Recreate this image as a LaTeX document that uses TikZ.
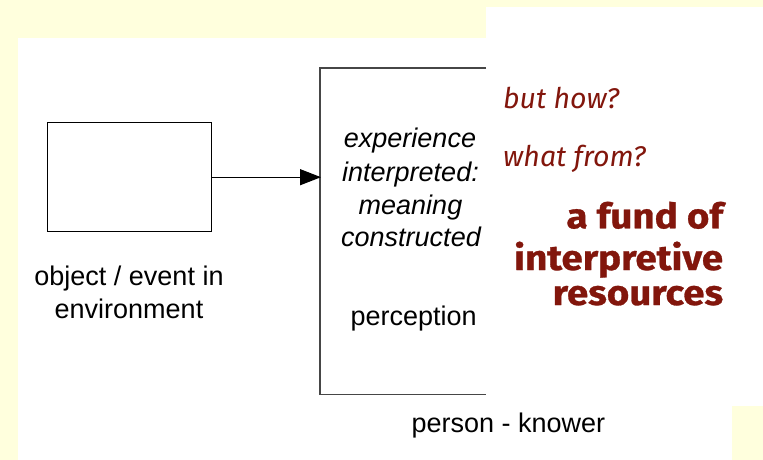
\documentclass[tikz,border=0pt]{standalone}
\usepackage{fontspec}
\usepackage{graphicx}
\setmainfont{Liberation Sans}
\newfontfamily\redfont{Fira Sans}
\newfontfamily\fundfont[BoldFeatures={FakeBold=0.8}]{Fira Sans}
\usetikzlibrary{arrows.meta}
\definecolor{bgyellow}{RGB}{255,255,221}
\definecolor{darkred}{RGB}{130,22,12}
\definecolor{linegray}{RGB}{70,70,70}
\newcommand{\widen}[1]{\scalebox{1.1}[1]{#1}}
\begin{document}
\begin{tikzpicture}[x=1pt,y=-1pt,
  lbl/.style={anchor=base,inner sep=0pt,font=\fontsize{27}{31}\selectfont},
  ital/.style={anchor=base,inner sep=0pt,font=\fontsize{27}{31}\selectfont\itshape},
  question/.style={anchor=base west,inner sep=0pt,text=darkred,font=\redfont\fontsize{28.5}{32}\selectfont\itshape},
  fund/.style={anchor=base east,inner sep=0pt,text=darkred,font=\fundfont\fontsize{35}{40}\selectfont\bfseries},
  objbox/.style={draw=black,line width=1.3pt,minimum width=164pt,minimum height=109pt,inner sep=0pt},
  bracket/.style={draw=linegray,line width=1.5pt},
  conn/.style={draw=black,line width=1.2pt,-{Triangle[length=21pt,width=16pt]}}
]
\useasboundingbox (0,0) rectangle (763,460);
\fill[bgyellow] (0,0) rectangle (763,460);
\fill[white] (18,38) rectangle (732,460);
\fill[white] (486,7) rectangle (763,406);

% object box
\node[objbox] (obj) at (129.3,177.2) {};
\node[lbl] (obj1) at (129,285.5) {object / event in};
\node[lbl] (obj2) at (129,318) {environment};

% person bracket
\coordinate (ptr) at (486,68);
\coordinate (ptl) at (320,68);
\coordinate (pbl) at (320,394.5);
\coordinate (pbr) at (486,394.5);
\coordinate (entry) at (321,177.2);
\draw[bracket] (ptr) -- (ptl) -- (pbl) -- (pbr);
\draw[conn] (obj.east) -- (entry);

\node[ital] (e1) at (410,147.3) {experience};
\node[ital] (e2) at (410.5,181) {interpreted:};
\node[ital] (e3) at (410.5,214) {meaning};
\node[ital] (e4) at (411,246.7) {constructed};
\node[lbl] (perc) at (413.7,325) {perception};
\node[lbl] (pk) at (508.4,432) {person - knower};

% red annotations
\node[question] (how) at (503,108.3) {but how?};
\node[question] (from) at (503,166.7) {what from?};
\node[fund] (f1) at (723.3,228.3) {\widen{a fund of}};
\node[fund] (f2) at (723.3,270) {\widen{interpretive}};
\node[fund] (f3) at (723.3,305) {\widen{resources}};
\end{tikzpicture}
\end{document}
